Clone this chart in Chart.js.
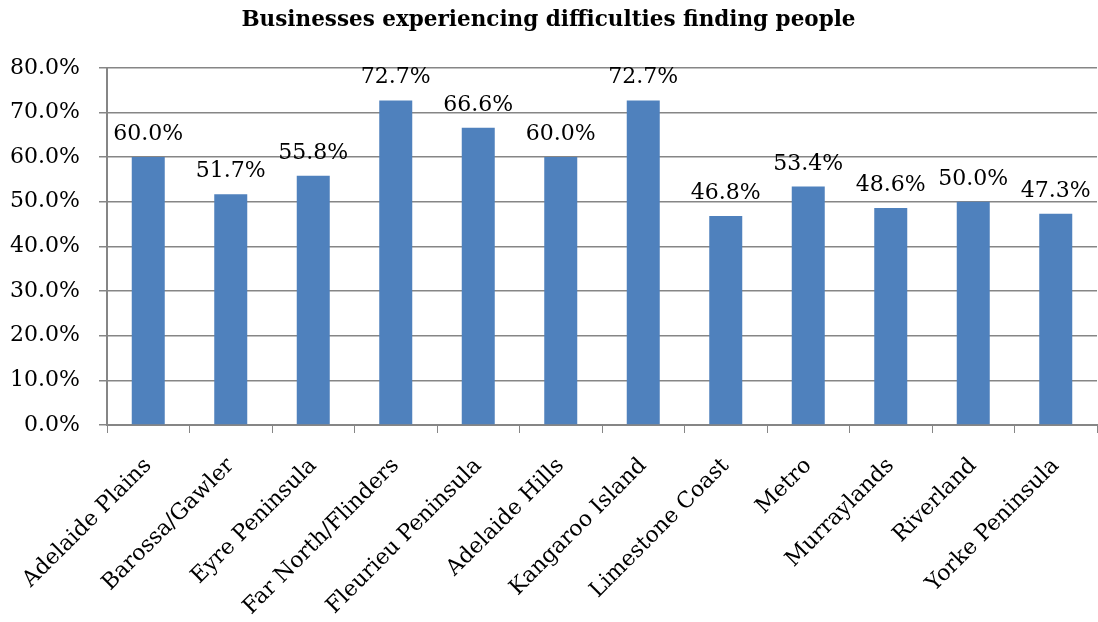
<!DOCTYPE html>
<html>
<head>
<meta charset="utf-8">
<title>Businesses experiencing difficulties finding people</title>
<script src="https://cdn.jsdelivr.net/npm/chart.js@4/dist/chart.umd.min.js"></script>
<style>
  html, body { margin: 0; padding: 0; background: #fff; }
  #chart { display: block; }
</style>
</head>
<body>
<canvas id="chart" width="1098" height="622"></canvas>
<script>
// Regions and share of businesses (%) having trouble finding people
const regions = [
    'Adelaide Plains', 'Barossa/Gawler', 'Eyre Peninsula', 'Far North/Flinders',
    'Fleurieu Peninsula', 'Adelaide Hills', 'Kangaroo Island', 'Limestone Coast',
    'Metro', 'Murraylands', 'Riverland', 'Yorke Peninsula'
];
const shares = [60.0, 51.7, 55.8, 72.7, 66.6, 60.0, 72.7, 46.8, 53.4, 48.6, 50.0, 47.3];
const yTicks = [0, 10, 20, 30, 40, 50, 60, 70, 80];

const serif = "'DejaVu Serif', 'Liberation Serif', serif";
const axisGrey = '#868686';

// value labels sitting on top of each bar
const barLabels = {
    id: 'barLabels',
    afterDatasetsDraw(chart) {
        const ctx = chart.ctx;
        const meta = chart.getDatasetMeta(0);
        ctx.save();
        ctx.font = '22px ' + serif;
        ctx.fillStyle = '#000';
        ctx.textAlign = 'center';
        ctx.textBaseline = 'alphabetic';
        meta.data.forEach((bar, i) => {
            ctx.fillText(shares[i].toFixed(1) + '%', bar.x, bar.y - 17);
        });
        ctx.restore();
    }
};

new Chart(document.getElementById('chart'), {
    type: 'bar',
    data: {
        labels: regions,
        datasets: [{
            data: shares,
            backgroundColor: '#4F81BD',
            borderWidth: 0,
            barPercentage: 0.4,
            categoryPercentage: 1
        }]
    },
    options: {
        responsive: false,
        animation: false,
        layout: { padding: { left: 0, right: 1, top: 0, bottom: 0 } },
        plugins: {
            legend: { display: false },
            tooltip: { enabled: false },
            title: {
                display: true,
                text: 'Businesses experiencing difficulties finding people',
                color: '#000',
                font: { family: serif, size: 21.5, weight: 'bold' },
                padding: { top: 8, bottom: 34 }
            }
        },
        scales: {
            x: {
                offset: true,
                grid: {
                    offset: true,
                    drawOnChartArea: false,
                    color: axisGrey,
                    tickLength: 8,
                    tickColor: axisGrey
                },
                border: { color: axisGrey, width: 2 },
                ticks: {
                    autoSkip: false,
                    maxRotation: 45,
                    minRotation: 45,
                    padding: 20,
                    color: '#000',
                    font: { family: serif, size: 22 }
                },
                afterFit(scale) { scale.height = 197; }
            },
            y: {
                min: 0,
                max: 80,
                afterBuildTicks(scale) {
                    scale.ticks = yTicks.map(v => ({ value: v }));
                },
                grid: {
                    color: axisGrey,
                    lineWidth: 1.5,
                    tickLength: 8,
                    tickColor: axisGrey
                },
                border: { color: axisGrey, width: 2 },
                ticks: {
                    padding: 19,
                    color: '#000',
                    font: { family: serif, size: 22 },
                    callback: v => v.toFixed(1) + '%'
                },
                afterFit(scale) { scale.width = 107; }
            }
        }
    },
    plugins: [barLabels]
});
</script>
</body>
</html>
